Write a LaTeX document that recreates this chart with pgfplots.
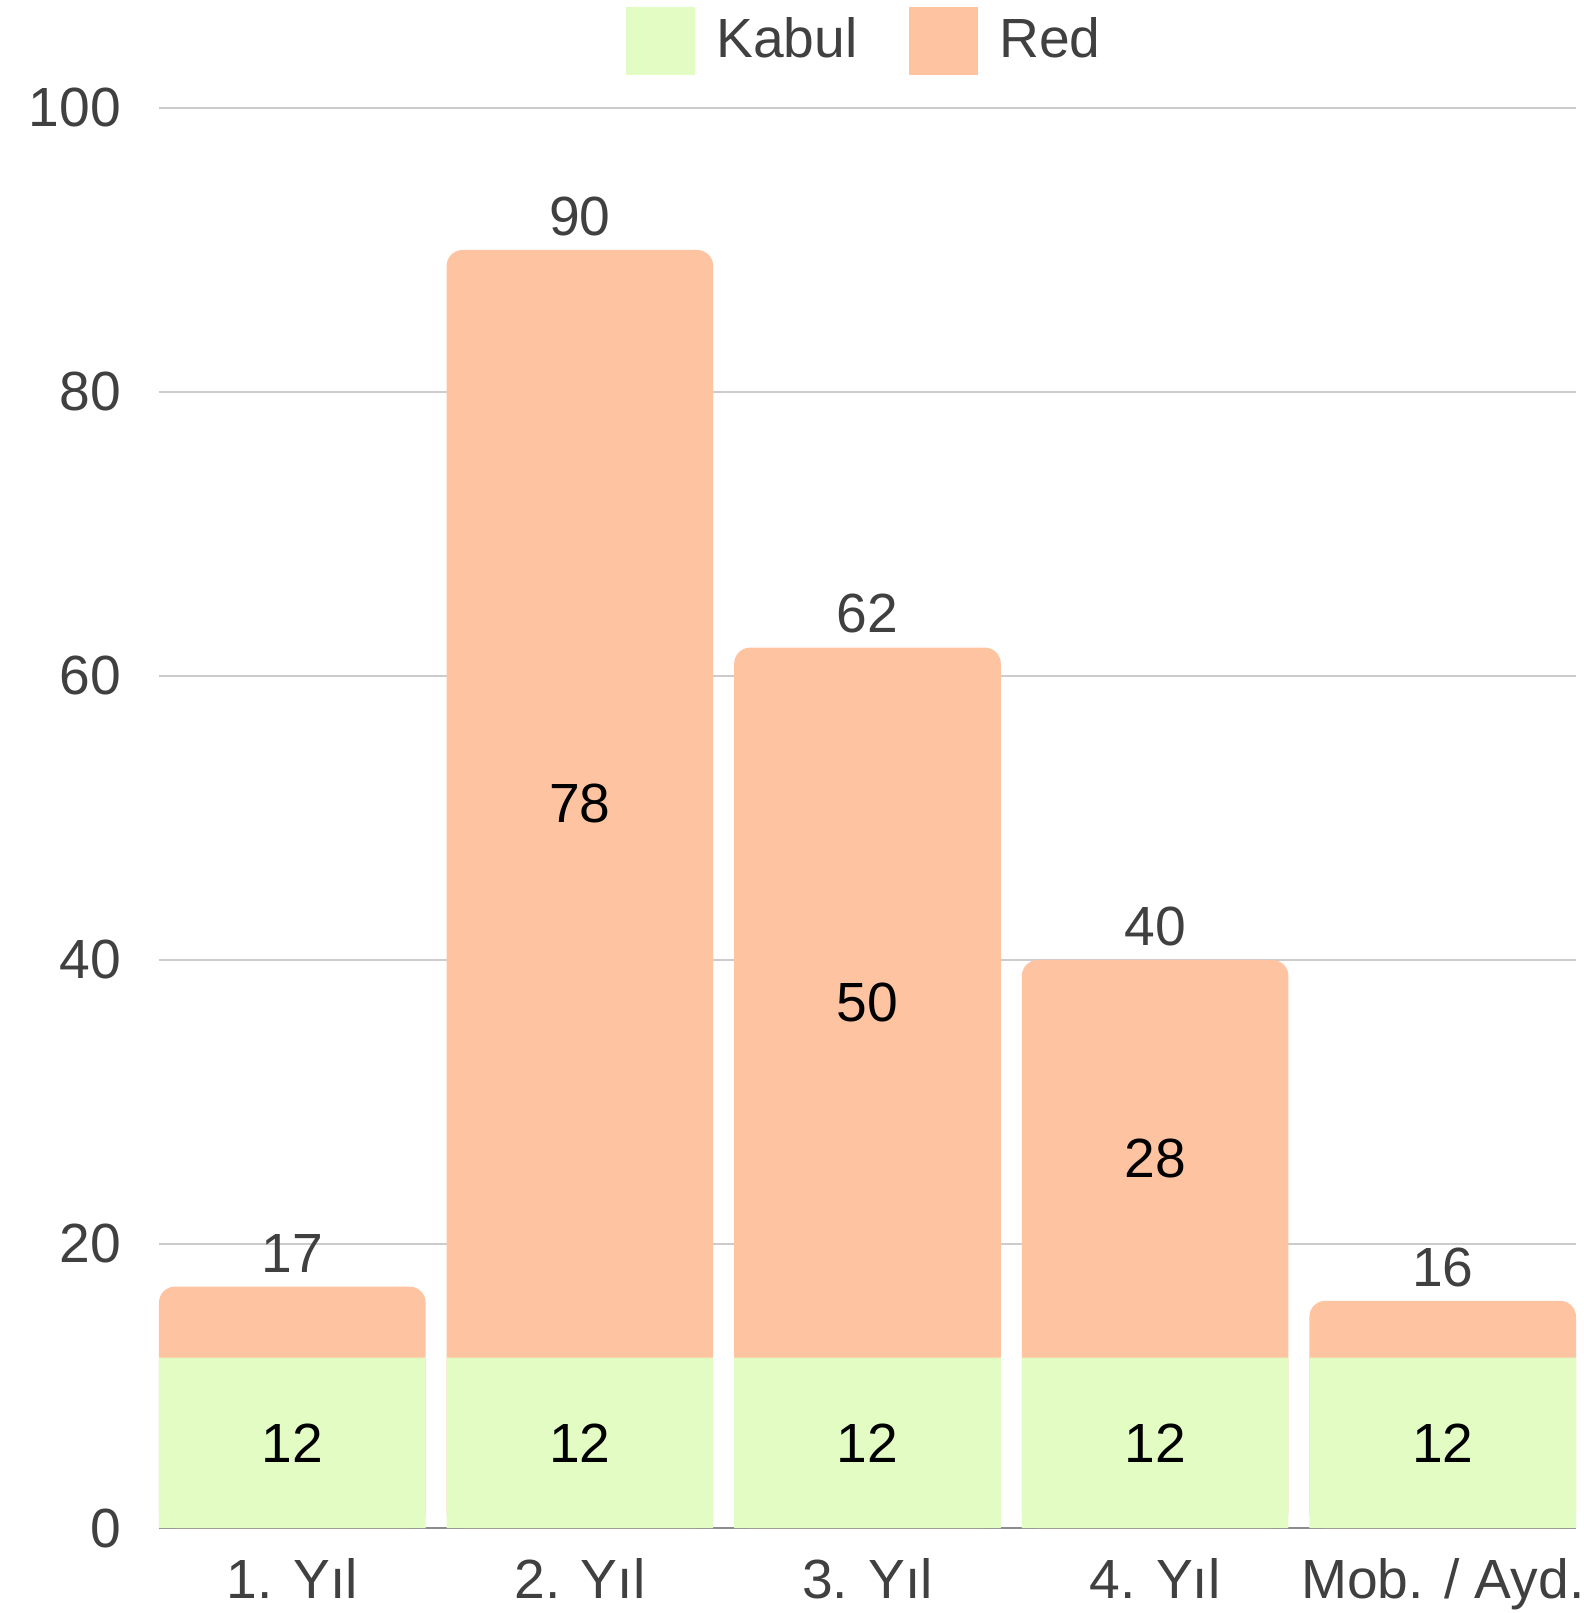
\documentclass[border=0pt]{standalone}
\usepackage{pgfplots}
\pgfplotsset{compat=1.18}
\usepackage{pgfplotstable}
\usepackage{fontspec}
\setmainfont{Liberation Sans}
\definecolor{kabulc}{RGB}{227,252,196}
\definecolor{redc}{RGB}{254,195,160}
\definecolor{txt}{RGB}{64,64,64}
\definecolor{gridc}{RGB}{204,204,204}
\definecolor{axc}{RGB}{140,140,140}
\pgfplotstableread{
x kabul red
0 12 5
1 12 78
2 12 50
3 12 28
4 12 4
}\data
\begin{document}
\begin{tikzpicture}
\path[use as bounding box] (-39.75pt,-21.25pt) rectangle (356pt,382pt);
\begin{axis}[
  at={(0,0)}, anchor=south west,
  scale only axis,
  width=354.25pt, height=355pt,
  xmin=-0.4635, xmax=4.4635,
  ymin=0, ymax=100,
  ytick={0,20,...,100},
  xtick={0,1,2,3,4},
  xticklabels={1. Yıl,2. Yıl,3. Yıl,4. Yıl,Mob. / Ayd.},
  major tick length=0pt,
  axis x line*=bottom,
  axis y line*=left,
  y axis line style={draw=none},
  x axis line style={draw=axc, line width=0.5pt, -},
  ymajorgrids,
  grid style={gridc, line width=0.4pt},
  tick label style={font=\fontsize{13.8}{16}\selectfont, text=txt},
  /pgf/number format/assume math mode=true,
  yticklabel style={xshift=-6pt},
  xticklabel style={yshift=-4pt},
  legend style={at={(0.5,1)}, anchor=center, yshift=16.75pt, draw=none, fill=none,
    legend columns=-1, font=\fontsize{13.8}{16}\selectfont, text=txt,
    /tikz/every odd column/.append style={column sep=3.3pt},
    /tikz/every even column/.append style={column sep=11pt}},
  legend cell align=left,
]
\addplot[ybar, bar width=0.927, bar shift=0pt, fill=redc, draw=none, rounded corners=4pt, forget plot,
  nodes near coords, point meta=y,
  every node near coord/.append style={anchor=south, text=txt, font=\fontsize{13.8}{16}\selectfont, rounded corners=0pt}]
  table[x=x, y expr=\thisrow{kabul}+\thisrow{red}] {\data};
\addplot[ybar, bar width=0.927, bar shift=0pt, fill=kabulc, draw=none, forget plot,
  nodes near coords, point meta=y,
  visualization depends on=y\as\rawy,
  every node near coord/.append style={anchor=center, text=black, font=\fontsize{13.8}{16}\selectfont,
    shift={(axis direction cs:0,-\rawy/2)}}]
  table[x=x, y=kabul] {\data};
\addplot[only marks, mark=none, forget plot,
  nodes near coords, point meta=explicit symbolic,
  every node near coord/.append style={anchor=center, text=black, font=\fontsize{13.8}{16}\selectfont}]
  coordinates {(1,51) [78] (2,37) [50] (3,26) [28]};
\addlegendimage{legend image code/.code={\fill[kabulc] (0pt,-8.4pt) rectangle (16.75pt,8.4pt);}}
\addlegendentry{Kabul}
\addlegendimage{legend image code/.code={\fill[redc] (0pt,-8.4pt) rectangle (16.75pt,8.4pt);}}
\addlegendentry{Red}
\end{axis}
\end{tikzpicture}
\end{document}
